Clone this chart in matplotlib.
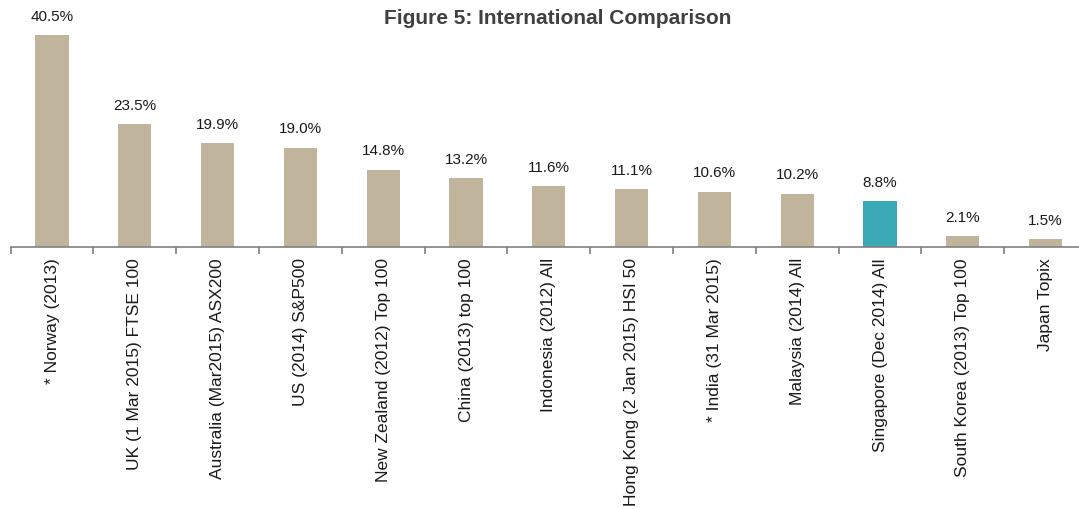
import numpy as np
import matplotlib
matplotlib.use("Agg")
from matplotlib import pyplot as plt

categories = [
    "* Norway (2013)",
    "UK (1 Mar 2015) FTSE 100",
    "Australia (Mar2015) ASX200",
    "US (2014) S&P500",
    "New Zealand (2012) Top 100",
    "China (2013) top 100",
    "Indonesia (2012) All",
    "Hong Kong (2 Jan 2015) HSI 50",
    "* India (31 Mar 2015)",
    "Malaysia (2014) All",
    "Singapore (Dec 2014) All",
    "South Korea (2013) Top 100",
    "Japan Topix",
]
values = [40.5, 23.5, 19.9, 19.0, 14.8, 13.2, 11.6, 11.1, 10.6, 10.2, 8.8, 2.1, 1.5]
highlight = "Singapore (Dec 2014) All"

plt.rcParams['font.family'] = ['Liberation Sans', 'DejaVu Sans']

tan = "#c0b49c"
teal = "#3aa9b5"
colors = [teal if c == highlight else tan for c in categories]

fig = plt.figure(figsize=(10.79, 5.09), dpi=100)
ax = fig.add_axes([10.6 / 1079, 262 / 509, 1076.4 / 1079, 235.6 / 509])

x = np.arange(len(categories))
ax.bar(x, values, width=0.4, color=colors)
for xi, v in zip(x, values):
    ax.annotate("%.1f%%" % v, (xi, v), xytext=(0, 8), textcoords="offset points",
                ha="center", va="bottom", fontsize=11, color="#1a1a1a")

ax.set_xlim(-0.5, len(categories) - 0.5)
ax.set_ylim(0, 45)
ax.set_xticks(x)
ax.set_xticklabels(categories, rotation=90, fontsize=12.5, color="#1a1a1a")
ax.set_xticks(np.arange(len(categories) + 1) - 0.5, minor=True)
ax.tick_params(axis="x", which="major", length=0, pad=8)
ax.tick_params(axis="x", which="minor", length=5, color="#808080", width=1.2)
ax.set_yticks([])
for side in ["top", "right", "left"]:
    ax.spines[side].set_visible(False)
ax.spines["bottom"].set_color("#808080")
ax.spines["bottom"].set_linewidth(1.2)

fig.text(558 / 1079, 1 - 18 / 509, "Figure 5: International Comparison", ha="center", va="center",
         fontsize=15, fontweight="bold", color="#404040")

plt.savefig("out.png", dpi=100)
